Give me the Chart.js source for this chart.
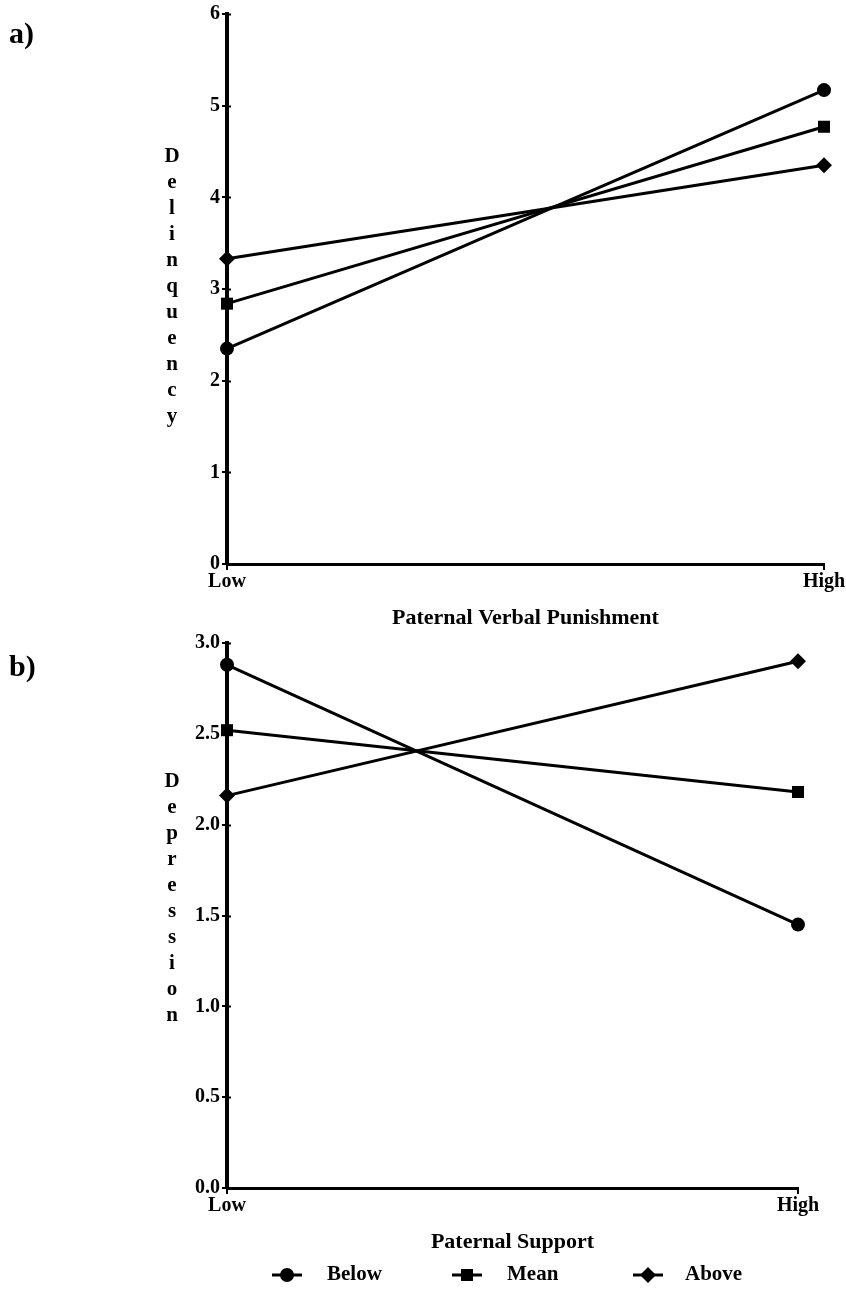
<!DOCTYPE html>
<html>
<head>
<meta charset="utf-8">
<script src="https://cdn.jsdelivr.net/npm/chart.js@4.4.1/dist/chart.umd.min.js"></script>
<style>
html,body{margin:0;padding:0;background:#fff;}
#wrap{position:relative;width:846px;height:1296px;overflow:hidden;}
canvas{position:absolute;left:0;}
</style>
</head>
<body>
<div id="wrap">
<canvas id="c1" width="846" height="640" style="top:0"></canvas>
<canvas id="c2" width="846" height="696" style="top:600px"></canvas>
</div>
<script>
// ---------- data ----------
const xLabels = ['Low', 'High'];
const seriesNames = ['Below', 'Mean', 'Above'];
const seriesMarkers = ['circle', 'rect', 'rectRot'];

const delinquencyBelow = [2.35, 5.17];
const delinquencyMean  = [2.84, 4.77];
const delinquencyAbove = [3.33, 4.35];

const depressionBelow = [2.88, 1.45];
const depressionMean  = [2.52, 2.18];
const depressionAbove = [2.16, 2.90];

const delinquencyTicks = [0, 1, 2, 3, 4, 5, 6];
const depressionTicks  = [0, 0.5, 1, 1.5, 2, 2.5, 3];

const panelLabels = ['a)', 'b)'];
const yTitles = ['Delinquency', 'Depression'];
const xTitles = ['Paternal Verbal Punishment', 'Paternal Support'];

// ---------- style ----------
const FONT = '"Liberation Serif", "Times New Roman", serif';
Chart.defaults.font.family = FONT;
Chart.defaults.font.weight = 'bold';
Chart.defaults.color = '#000';

const markerRadius = {circle: 7, rect: 8.5, rectRot: 8};

function drawMarker(ctx, style, x, y) {
  const r = markerRadius[style];
  ctx.beginPath();
  if (style === 'circle') {
    ctx.arc(x, y, r, 0, Math.PI * 2);
  } else if (style === 'rect') {
    const s = r * Math.SQRT1_2;
    ctx.rect(x - s, y - s, 2 * s, 2 * s);
  } else {
    ctx.moveTo(x - r, y); ctx.lineTo(x, y - r); ctx.lineTo(x + r, y); ctx.lineTo(x, y + r); ctx.closePath();
  }
  ctx.fill();
}

const stackedTitle = {
  id: 'stackedTitle',
  afterDraw(chart, args, o) {
    const ctx = chart.ctx;
    ctx.save();
    ctx.fillStyle = '#000';
    ctx.font = 'bold ' + o.size + 'px ' + FONT;
    ctx.textAlign = 'center';
    ctx.textBaseline = 'middle';
    [...o.text].forEach((ch, i) => ctx.fillText(ch, o.x, o.y0 + i * o.step));
    ctx.font = 'bold 30px ' + FONT;
    ctx.textAlign = 'left';
    ctx.fillText(o.panel, o.px, o.py);
    // small cross ticks on the inner side of the value axis
    const ys = chart.scales.y, left = chart.chartArea.left;
    ctx.strokeStyle = '#000';
    ctx.lineWidth = 2;
    ys.ticks.forEach(t => {
      const py = Math.round(ys.getPixelForValue(t.value)) + 0.5;
      ctx.beginPath(); ctx.moveTo(left, py); ctx.lineTo(left + 4, py); ctx.stroke();
    });
    ctx.restore();
  }
};

const lineLegend = {
  id: 'lineLegend',
  afterDraw(chart, args, o) {
    if (!o.show) return;
    const ctx = chart.ctx;
    ctx.save();
    ctx.fillStyle = '#000';
    ctx.strokeStyle = '#000';
    ctx.lineWidth = 3;
    ctx.font = 'bold 21px ' + FONT;
    ctx.textBaseline = 'middle';
    ctx.textAlign = 'left';
    chart.data.datasets.forEach((ds, i) => {
      const cx = o.markerX[i];
      ctx.beginPath();
      ctx.moveTo(cx - 15, o.y); ctx.lineTo(cx + 15, o.y); ctx.stroke();
      drawMarker(ctx, ds.pointStyle, cx, o.y);
      ctx.fillText(ds.label, o.textX[i], o.y);
    });
    ctx.restore();
  }
};

function makeDatasets(values) {
  return values.map((vals, i) => ({
    label: seriesNames[i],
    data: vals,
    borderColor: '#000',
    backgroundColor: '#000',
    borderWidth: 3,
    pointStyle: seriesMarkers[i],
    pointRadius: markerRadius[seriesMarkers[i]],
    pointBackgroundColor: '#000',
    pointBorderColor: '#000',
    pointBorderWidth: 0,
    tension: 0,
    clip: false
  }));
}

function makeChart(id, values, ticksList, decimals, cfg) {
  return new Chart(document.getElementById(id), {
    type: 'line',
    data: {labels: xLabels, datasets: makeDatasets(values)},
    plugins: [stackedTitle, lineLegend],
    options: {
      responsive: false,
      animation: false,
      devicePixelRatio: 1,
      layout: {padding: {left: 0, right: cfg.padRight, top: cfg.padTop, bottom: cfg.padBottom}},
      plugins: {
        legend: {display: false},
        tooltip: {enabled: false},
        stackedTitle: cfg.stacked,
        lineLegend: cfg.legend
      },
      scales: {
        x: {
          type: 'category',
          offset: false,
          grid: {offset: false, drawOnChartArea: false, drawTicks: true, tickLength: 6, color: '#000', lineWidth: 2},
          border: {display: true, color: '#000', width: 3},
          ticks: {color: '#000', font: {size: 20, weight: 'bold'}, padding: 0, maxRotation: 0, autoSkip: false},
          title: {display: true, text: cfg.xTitle, color: '#000', font: {size: 22, weight: 'bold'},
                  padding: {top: 0, bottom: cfg.titlePad}},
          afterFit(s) { s.height = cfg.xHeight; }
        },
        y: {
          min: ticksList[0],
          max: ticksList[ticksList.length - 1],
          afterBuildTicks(s) { s.ticks = ticksList.map(v => ({value: v})); },
          grid: {drawOnChartArea: false, drawTicks: true, tickLength: 5, color: '#000', lineWidth: 2},
          border: {display: true, color: '#000', width: 4},
          ticks: {color: '#000', font: {size: 20, weight: 'bold'}, padding: 2,
                  callback: v => Number(v).toFixed(decimals)},
          afterFit(s) { s.width = 227; }
        }
      }
    }
  });
}

makeChart('c1', [delinquencyBelow, delinquencyMean, delinquencyAbove], delinquencyTicks, 0, {
  padRight: 22, padTop: 12, padBottom: 0, xHeight: 76, titlePad: 8,
  xTitle: xTitles[0],
  stacked: {text: yTitles[0], x: 172, y0: 157, step: 26, size: 21, panel: panelLabels[0], px: 9, py: 35},
  legend: {show: false}
});

makeChart('c2', [depressionBelow, depressionMean, depressionAbove], depressionTicks, 1, {
  padRight: 48, padTop: 43, padBottom: 38, xHeight: 70, titlePad: 2,
  xTitle: xTitles[1],
  stacked: {text: yTitles[1], x: 172, y0: 182, step: 26, size: 21, panel: panelLabels[1], px: 9, py: 68},
  legend: {show: true, y: 675, markerX: [287, 467, 648], textX: [327, 507, 685]}
});
</script>
</body>
</html>
